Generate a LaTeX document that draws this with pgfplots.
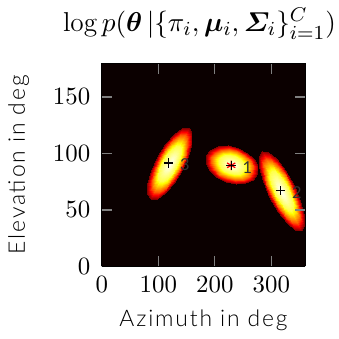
\documentclass[border=0pt]{standalone}
\usepackage{amsmath}
\usepackage{fontspec}
\usepackage{bm}
\usepackage{pgfplots}
\pgfplotsset{compat=1.18}
\newfontfamily\labfont{Lato}[UprightFont=* Light, LetterSpace=8]
\newfontfamily\numfont{Lato}

\pgfplotstableread{
x y z
230 90 1.0
230 90 1.0
230 90 1.0
230 90 1.0
230 90 1.0
230 90 1.0
230 90 1.0
230 90 1.0
230 90 1.0
230 90 1.0
230 90 1.0
230 90 1.0
230 90 1.0
230 90 1.0
230 90 1.0
230 90 1.0
230 90 1.0
252.64 85.88 0.82
253.02 89.08 0.82
249.90 92.42 0.82
243.74 95.39 0.82
235.50 97.54 0.82
226.41 98.54 0.82
217.87 98.24 0.82
211.19 96.69 0.82
207.36 94.12 0.82
206.98 90.92 0.82
210.10 87.58 0.82
216.26 84.61 0.82
224.50 82.46 0.82
233.59 81.46 0.82
242.13 81.76 0.82
248.81 83.31 0.82
252.64 85.88 0.82
266.22 83.42 0.50
266.83 88.54 0.50
261.83 93.87 0.50
251.98 98.62 0.50
238.79 102.06 0.50
224.26 103.66 0.50
210.60 103.18 0.50
199.90 100.70 0.50
193.78 96.58 0.50
193.17 91.46 0.50
198.17 86.13 0.50
208.02 81.38 0.50
221.21 77.94 0.50
235.74 76.34 0.50
249.40 76.82 0.50
260.10 79.30 0.50
266.22 83.42 0.50
275.28 81.77 0.18
276.04 88.17 0.18
269.79 94.84 0.18
257.48 100.78 0.18
240.99 105.08 0.18
222.82 107.08 0.18
205.75 106.48 0.18
192.38 103.37 0.18
184.72 98.23 0.18
183.96 91.83 0.18
190.21 85.16 0.18
202.52 79.22 0.18
219.01 74.92 0.18
237.18 72.92 0.18
254.25 73.52 0.18
267.62 76.63 0.18
275.28 81.77 0.18
}\compone

\pgfplotstableread{
x y z
318 67 1.0
318 67 1.0
318 67 1.0
318 67 1.0
318 67 1.0
318 67 1.0
318 67 1.0
318 67 1.0
318 67 1.0
318 67 1.0
318 67 1.0
318 67 1.0
318 67 1.0
318 67 1.0
318 67 1.0
318 67 1.0
318 67 1.0
335.22 49.37 0.82
338.05 51.72 0.82
337.83 56.40 0.82
334.60 62.69 0.82
328.83 69.64 0.82
321.42 76.18 0.82
313.48 81.33 0.82
306.24 84.30 0.82
300.78 84.63 0.82
297.95 82.28 0.82
298.17 77.60 0.82
301.40 71.31 0.82
307.17 64.36 0.82
314.58 57.82 0.82
322.52 52.67 0.82
329.76 49.70 0.82
335.22 49.37 0.82
345.54 38.80 0.50
350.08 42.56 0.50
349.73 50.04 0.50
344.55 60.10 0.50
335.33 71.22 0.50
323.46 81.69 0.50
310.78 89.92 0.50
299.18 94.67 0.50
290.46 95.20 0.50
285.92 91.44 0.50
286.27 83.96 0.50
291.45 73.90 0.50
300.67 62.78 0.50
312.54 52.31 0.50
325.22 44.08 0.50
336.82 39.33 0.50
345.54 38.80 0.50
352.43 31.75 0.18
358.10 36.45 0.18
357.66 45.80 0.18
351.19 58.38 0.18
339.66 72.27 0.18
324.83 85.36 0.18
308.97 95.65 0.18
294.48 101.59 0.18
283.57 102.25 0.18
277.90 97.55 0.18
278.34 88.20 0.18
284.81 75.62 0.18
296.34 61.73 0.18
311.17 48.64 0.18
327.03 38.35 0.18
341.52 32.41 0.18
352.43 31.75 0.18
}\comptwo

\pgfplotstableread{
x y z
120 91 1.0
120 91 1.0
120 91 1.0
120 91 1.0
120 91 1.0
120 91 1.0
120 91 1.0
120 91 1.0
120 91 1.0
120 91 1.0
120 91 1.0
120 91 1.0
120 91 1.0
120 91 1.0
120 91 1.0
120 91 1.0
120 91 1.0
136.76 106.74 0.82
131.27 106.66 0.82
124.05 104.20 0.82
116.22 99.73 0.82
108.97 93.93 0.82
103.39 87.68 0.82
100.35 81.94 0.82
100.29 77.58 0.82
103.24 75.26 0.82
108.73 75.34 0.82
115.95 77.80 0.82
123.78 82.27 0.82
131.03 88.07 0.82
136.61 94.32 0.82
139.65 100.06 0.82
139.71 104.42 0.82
136.76 106.74 0.82
146.82 116.18 0.50
138.02 116.06 0.50
126.48 112.12 0.50
113.96 104.97 0.50
102.35 95.69 0.50
93.43 85.69 0.50
88.56 76.50 0.50
88.47 69.53 0.50
93.18 65.82 0.50
101.98 65.94 0.50
113.52 69.88 0.50
126.04 77.03 0.50
137.65 86.31 0.50
146.57 96.31 0.50
151.44 105.50 0.50
151.53 112.47 0.50
146.82 116.18 0.50
153.52 122.48 0.18
142.53 122.32 0.18
128.10 117.40 0.18
112.45 108.46 0.18
97.94 96.86 0.18
86.79 84.36 0.18
80.70 72.88 0.18
80.59 64.16 0.18
86.48 59.52 0.18
97.47 59.68 0.18
111.90 64.60 0.18
127.55 73.54 0.18
142.06 85.14 0.18
153.21 97.64 0.18
159.30 109.12 0.18
159.41 117.84 0.18
153.52 122.48 0.18
}\compthree

\begin{document}
\begin{tikzpicture}
\begin{axis}[
  scale only axis, width=81.8pt, height=81.8pt,
  view={0}{90},
  xmin=0, xmax=360, ymin=0, ymax=180,
  xtick={0,100,200,300}, ytick={0,50,100,150}, ztick=\empty,
  point meta min=0, point meta max=1,
  colormap={hotm}{rgb(0pt)=(0.0417,0,0); rgb(23pt)=(1,0,0); rgb(47pt)=(1,1,0); rgb(63pt)=(1,1,1)},
  axis on top,
  tick align=inside,
  xtick pos=both, ytick pos=both,
  tick style={gray, line width=0.5pt},
  axis line style={black},
  title={$\log p(\bm{\theta}\,|\{\pi_i,\bm{\mu}_i,\bm{\varSigma}_i\}_{i=1}^{C})$},
  title style={font=\fontsize{11}{13}\selectfont, xshift=-1.6pt, inner xsep=1pt},
  xlabel={Azimuth in deg}, ylabel={Elevation in deg},
  label style={font=\labfont\fontsize{9.2}{11}\selectfont},
  ylabel style={at={(axis description cs:-0.314,0.5)}, anchor=south},
  ticklabel style={font=\fontsize{10}{12}\selectfont},
  yticklabel style={xshift=-1.1pt},
  xticklabel style={yshift=-0.6pt},
]
\addplot3[surf, shader=flat, mesh/rows=2, mesh/cols=2, point meta=\thisrow{z}] table {
x y z
0 0 0
360 0 0
0 180 0
360 180 0
};
\addplot3[surf, shader=interp, mesh/rows=4, mesh/cols=17, point meta=\thisrow{z}] table {\compone};
\addplot3[surf, shader=interp, mesh/rows=4, mesh/cols=17, point meta=\thisrow{z}] table {\comptwo};
\addplot3[surf, shader=interp, mesh/rows=4, mesh/cols=17, point meta=\thisrow{z}] table {\compthree};
\addplot3[only marks, mark=asterisk, mark size=1.9pt, red, line width=0.5pt] coordinates {(229,89.5,1)};
\addplot3[only marks, mark=+, mark size=1.9pt, black, line width=0.5pt,
  nodes near coords, point meta=explicit symbolic,
  every node near coord/.style={anchor=west, xshift=1pt, yshift=-0.8pt, text=black!80, font=\numfont\fontsize{6.6}{8}\selectfont}]
  table[meta=lab] {
x y z lab
229 89.5 1 1
316.5 67 1 2
118.5 91.5 1 3
};
\end{axis}
\end{tikzpicture}
\end{document}
